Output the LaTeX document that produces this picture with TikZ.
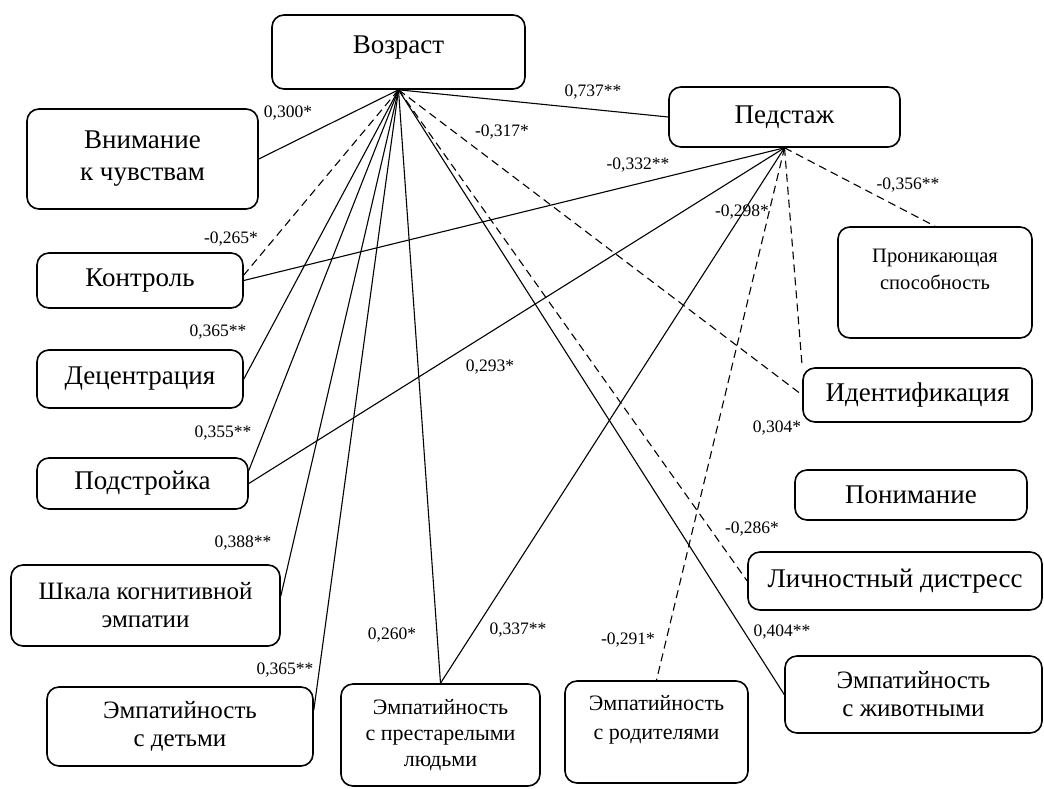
\documentclass[tikz,border=0pt]{standalone}
\usepackage{fontspec}
\setmainfont{Liberation Serif}
\usepackage{tikz}

\begin{document}
\begin{tikzpicture}[x=1pt,y=-1pt,
    box/.style={draw, rounded corners=12pt, line width=1.6pt, align=center, inner sep=0pt, font=\fontsize{27}{32}\selectfont},
    small/.style={font=\fontsize{25}{28}\selectfont},
    lbl/.style={inner sep=0pt, font=\fontsize{17.5}{20}\selectfont},
    lnk/.style={line width=1.1pt},
    lnkd/.style={line width=1.1pt, dash pattern=on 8pt off 5pt}]
                        \useasboundingbox (0,0) rectangle (1044,788);
                        % boxes
                        \node[box, minimum width=253, minimum height=74, text depth=14pt] (voz) at (398.5,52)  {Возраст};
                        \node[box, minimum width=231, minimum height=60]  (ped) at (784.5,117)  {Педстаж};
                        \node[box, minimum width=231, minimum height=100] (vni) at (142.5,159)  {Внимание\\к чувствам};
                        \node[box, minimum width=206, minimum height=55]  (kon) at (140,280.5)  {Контроль};
                        \node[box, minimum width=206, minimum height=58]  (dec) at (140,379)    {Децентрация};
                        \node[box, minimum width=211, minimum height=51]  (pod) at (142.5,483.5){Подстройка};
                        \node[box, small, minimum width=269, minimum height=81]  (shk) at (145.5,605.5){Шкала когнитивной\\эмпатии};
                        \node[box, small, minimum width=266, minimum height=79]  (det) at (180,726.5)  {Эмпатийность\\с детьми};
                        \node[box, minimum width=199, minimum height=102, font=\fontsize{22}{26}\selectfont] (pre) at (440.5,735) {Эмпатийность\\с престарелыми\\людьми};
                        \node[box, minimum width=183, minimum height=102, font=\fontsize{22}{29}\selectfont] (rod) at (656.5,732) {Эмпатийность\\с родителями\\\mbox{}};
                        \node[box, small, minimum width=257, minimum height=77]  (ziv) at (913.5,694.5){Эмпатийность\\с животными};
                        \node[box, minimum width=294, minimum height=58]  (lic) at (895,581)    {Личностный дистресс};
                        \node[box, minimum width=232, minimum height=50]  (pon) at (911,495)    {Понимание};
                        \node[box, minimum width=229, minimum height=54]  (ide) at (917.5,395)  {Идентификация};
                        \node[box, minimum width=194, minimum height=111, font=\fontsize{20.5}{27}\selectfont] (pro) at (935,282.5) {Проникающая\\способность\\\mbox{}};
                        % links from voz
                        \path[lnk]  (voz.south) edge (vni.east);
                        \path[lnk]  (voz.south) edge (ped.west);
                        \path[lnkd] (voz.south) edge (kon.3);
                        \path[lnk]  (voz.south) edge (dec.east);
                        \path[lnk]  (voz.south) edge (pod.7);
                        \path[lnk]  (voz.south) edge (shk.4);
                        \path[lnk]  (voz.south) edge (det.7);
                        \path[lnk]  (voz.south) edge (pre.north);
                        \path[lnkd] (voz.south) edge (lic.west);
                        \path[lnk]  (voz.south) edge (ziv.west);
                        \path[lnkd] (voz.south) edge (ide.west);
                        % links from ped
                        \path[lnk]  (ped.south) edge (kon.east);
                        \path[lnk]  (ped.south) edge (pod.east);
                        \path[lnk]  (ped.south) edge (pre.north);
                        \path[lnkd] (ped.south) edge (rod.north);
                        \path[lnkd] (ped.south) edge (ide.north west);
                        \path[lnkd] (ped.south) edge (pro.north);
                        % labels
                        \node[lbl] (l300)  at (288,113) {0,300*};
                        \node[lbl] (l737)  at (593,92)  {0,737**};
                        \node[lbl] (l317)  at (502,132) {-0,317*};
                        \node[lbl] (l332)  at (638,165) {-0,332**};
                        \node[lbl] (l356)  at (908,185) {-0,356**};
                        \node[lbl] (l298)  at (742,212) {-0,298*};
                        \node[lbl] (l265)  at (231,239) {-0,265*};
                        \node[lbl] (l365a) at (218,332) {0,365**};
                        \node[lbl] (l293)  at (490,367) {0,293*};
                        \node[lbl] (l355)  at (223,433) {0,355**};
                        \node[lbl] (l304)  at (777,428) {0,304*};
                        \node[lbl] (l388)  at (243,543) {0,388**};
                        \node[lbl] (l286)  at (752,529) {-0,286*};
                        \node[lbl] (l260)  at (392,635) {0,260*};
                        \node[lbl] (l337)  at (518,630) {0,337**};
                        \node[lbl] (l291)  at (628,640) {-0,291*};
                        \node[lbl] (l404)  at (782,632) {0,404**};
                        \node[lbl] (l365b) at (285,670) {0,365**};
                    \end{tikzpicture}
\end{document}
